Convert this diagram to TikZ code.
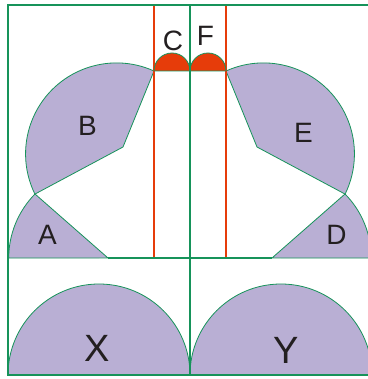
\documentclass[tikz,border=0pt]{standalone}
\usepackage{fontspec}
\setmainfont{Liberation Sans}
\definecolor{PieceFill}{HTML}{B9AFD4}
\definecolor{PieceLine}{HTML}{16935A}
\definecolor{CapRed}{HTML}{E63C0A}
\definecolor{LabelInk}{HTML}{231F20}
\begin{document}
\begin{tikzpicture}[x=1pt,y=1pt]
  \tikzstyle{piece}=[draw=PieceLine,fill=PieceFill,line width=0.8pt,line join=round]
  \tikzstyle{redcap}=[draw=PieceLine,fill=CapRed,line width=0.8pt]
  \tikzstyle{frame}=[draw=PieceLine,line width=1.3pt]
  \tikzstyle{guide}=[draw=CapRed,line width=1.3pt]
  \tikzstyle{lbl}=[text=LabelInk,inner sep=0pt,font=\fontsize{28}{30}\selectfont]
  \tikzstyle{biglbl}=[text=LabelInk,inner sep=0pt,font=\fontsize{38}{40}\selectfont]
  \useasboundingbox (0,0) rectangle (367,379);
  \fill[white] (0,0) rectangle (367,379);
  \draw[piece] (108,121) -- (35,185) arc[start angle=135.4,end angle=180,radius=91.2] -- cycle;
  \draw[piece] (123,232) -- (154,308) arc[start angle=65.7,end angle=206.2,radius=91] -- cycle;
  \draw[piece] (272,121) -- (345,185) arc[start angle=44.6,end angle=0,radius=91.2] -- cycle;
  \draw[piece] (257,232) -- (226,308) arc[start angle=114.3,end angle=-26.2,radius=91] -- cycle;
  \draw[piece] (8,4) arc[start angle=180,end angle=0,radius=91] -- cycle;
  \draw[piece] (190,4) arc[start angle=180,end angle=0,radius=91] -- cycle;
  \draw[guide] (154,121) -- (154,374);
  \draw[guide] (226,121) -- (226,374);
  \draw[redcap] (154,308) arc[start angle=180,end angle=0,radius=18] -- cycle;
  \draw[redcap] (190,308) arc[start angle=180,end angle=0,radius=18] -- cycle;
  \draw[frame] (8,4) rectangle (372,374);
  \draw[frame] (190,4) -- (190,374);
  \draw[frame] (108,121) -- (272,121);
  \node[lbl] (labelA) at (47.5,144) {A};
  \node[lbl] (labelB) at (87.5,253.5) {B};
  \node[lbl] (labelC) at (173,338.5) {C};
  \node[lbl] (labelF) at (205.5,343) {F};
  \node[lbl] (labelE) at (303.5,246.5) {E};
  \node[lbl] (labelD) at (336.5,144.5) {D};
  \node[biglbl] (labelX) at (97,31) {X};
  \node[biglbl] (labelY) at (286.5,29) {Y};
\end{tikzpicture}
\end{document}
